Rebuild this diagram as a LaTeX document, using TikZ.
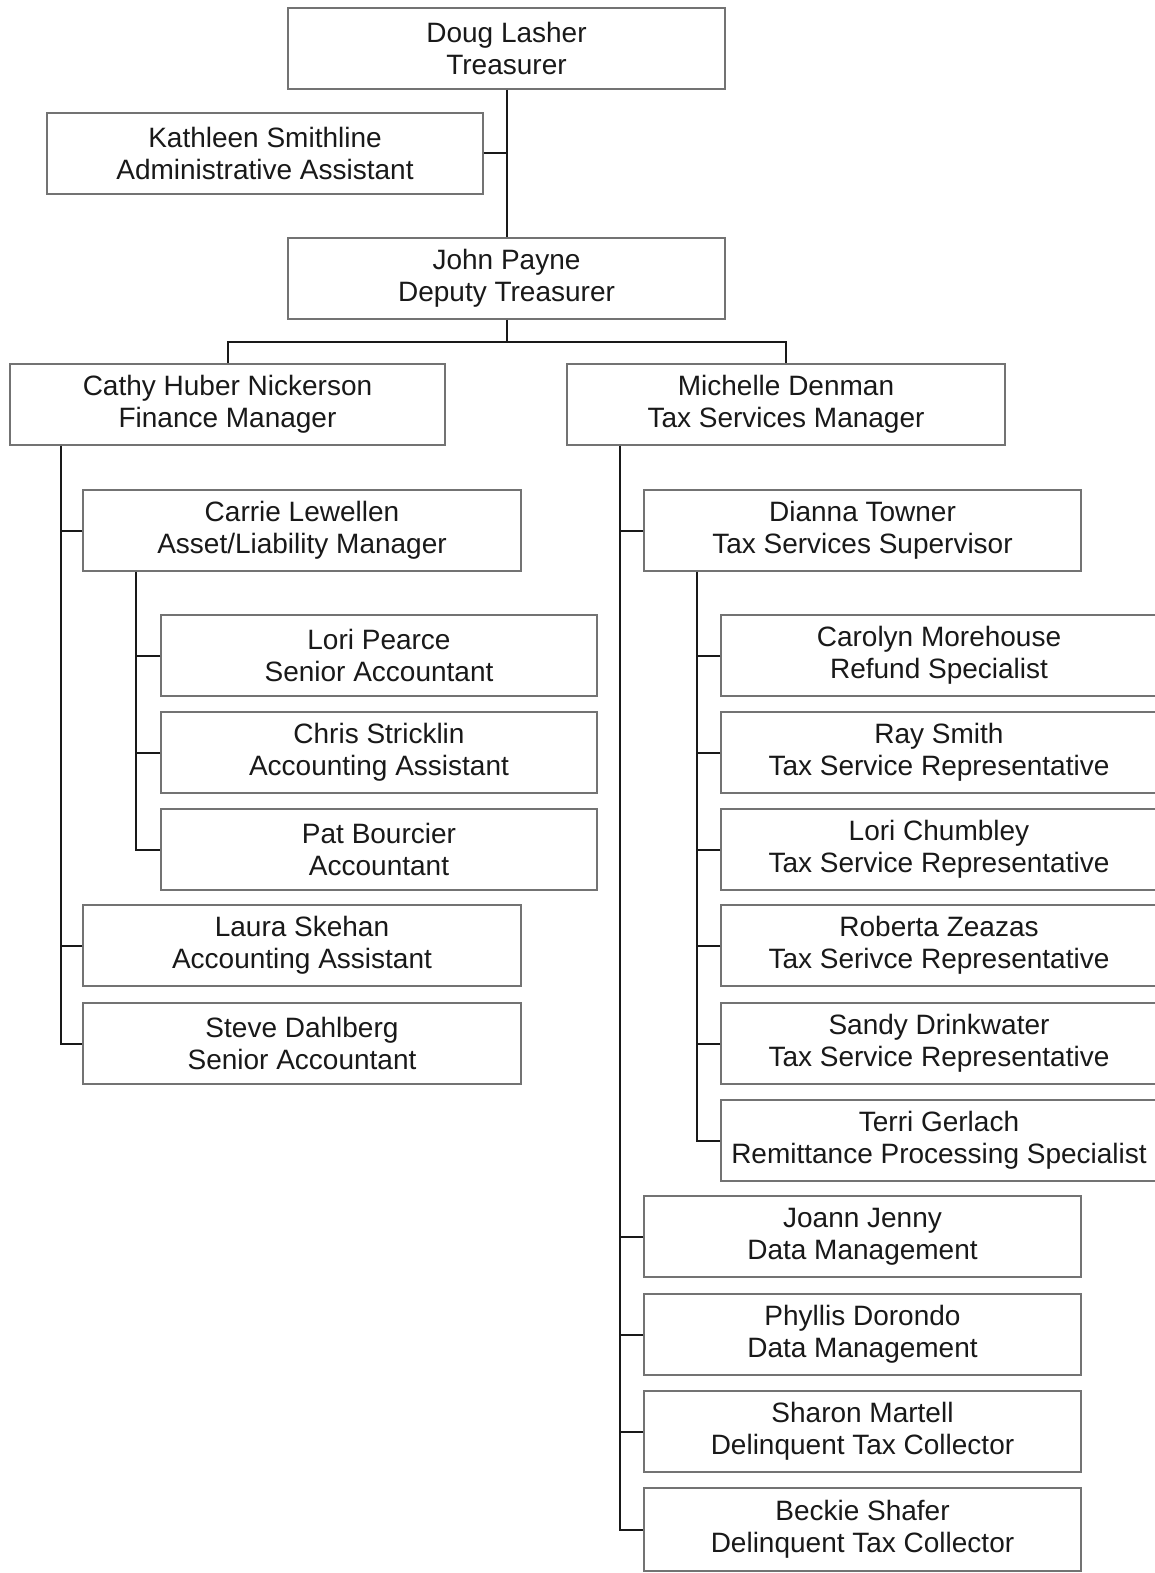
\documentclass[tikz,border=0pt]{standalone}
\usepackage{fontspec}
\setmainfont{Liberation Sans}
\begin{document}
\begin{tikzpicture}[x=1pt,y=-1pt,
  box/.style={draw=black!55, line width=1.1pt, inner sep=0pt, align=center,
    font=\fontsize{28}{32}\selectfont, text=black!90},
  conn/.style={draw=black!90, line width=2pt}]
\useasboundingbox (0,0) rectangle (1155,1573);
\clip (0,0) rectangle (1155,1573);
\fill[white] (0,0) rectangle (1155,1573);
\newcommand{\bx}[6]{%
  \node[box, minimum width={#3-#2}, minimum height={#5-#4}] (#1) at ({(#2+#3)/2},{(#4+#5)/2}) {#6};}
\bx{doug}{288}{725}{8}{89}{Doug Lasher\\Treasurer}
\bx{kath}{47}{483}{113}{194}{Kathleen Smithline\\Administrative Assistant}
\bx{john}{288}{725}{238}{319}{John Payne\\Deputy Treasurer}
\bx{cathy}{10}{445}{364}{445}{Cathy Huber Nickerson\\Finance Manager}
\bx{mich}{567}{1005}{364}{445}{Michelle Denman\\Tax Services Manager}
\bx{carrie}{83}{521}{490}{571}{Carrie Lewellen\\Asset/Liability Manager}
\bx{lorip}{161}{597}{615}{696}{Lori Pearce\\Senior Accountant}
\bx{chris}{161}{597}{712}{793}{Chris Stricklin\\Accounting Assistant}
\bx{pat}{161}{597}{809}{890}{Pat Bourcier\\Accountant}
\bx{laura}{83}{521}{905}{986}{Laura Skehan\\Accounting Assistant}
\bx{steve}{83}{521}{1003}{1084}{Steve Dahlberg\\Senior Accountant}
\bx{dianna}{644}{1081}{490}{571}{Dianna Towner\\Tax Services Supervisor}
\bx{carolyn}{721}{1157}{615}{696}{Carolyn Morehouse\\Refund Specialist}
\bx{ray}{721}{1157}{712}{793}{Ray Smith\\Tax Service Representative}
\bx{loric}{721}{1157}{809}{890}{Lori Chumbley\\Tax Service Representative}
\bx{roberta}{721}{1157}{905}{986}{Roberta Zeazas\\Tax Serivce Representative}
\bx{sandy}{721}{1157}{1003}{1084}{Sandy Drinkwater\\Tax Service Representative}
\bx{terri}{721}{1157}{1100}{1181}{Terri Gerlach\\Remittance Processing Specialist}
\bx{joann}{644}{1081}{1196}{1277}{Joann Jenny\\Data Management}
\bx{phyllis}{644}{1081}{1294}{1375}{Phyllis Dorondo\\Data Management}
\bx{sharon}{644}{1081}{1391}{1472}{Sharon Martell\\Delinquent Tax Collector}
\bx{beckie}{644}{1081}{1488}{1571}{Beckie Shafer\\Delinquent Tax Collector}
% top connectors
\draw[conn] (doug.south) -- (john.north);
\draw[conn] (kath.east) -- (kath.east -| doug.south);
\coordinate (jbar) at ([yshift=-22pt]john.south);
\draw[conn] (john.south) -- (jbar);
\draw[conn] (jbar) -| (cathy.north);
\draw[conn] (jbar) -| (mich.north);
% Cathy spine
\coordinate (cs) at ([xshift=52pt]cathy.south west);
\draw[conn] (cs) |- (steve.west);
\draw[conn] (carrie.west) -- (carrie.west -| cs);
\draw[conn] (laura.west) -- (laura.west -| cs);
% Carrie spine
\coordinate (ls) at ([xshift=54pt]carrie.south west);
\draw[conn] (ls) |- (pat.west);
\draw[conn] (lorip.west) -- (lorip.west -| ls);
\draw[conn] (chris.west) -- (chris.west -| ls);
% Michelle spine
\coordinate (ms) at ([xshift=54pt]mich.south west);
\draw[conn] (ms) |- (beckie.west);
\draw[conn] (dianna.west) -- (dianna.west -| ms);
\draw[conn] (joann.west) -- (joann.west -| ms);
\draw[conn] (phyllis.west) -- (phyllis.west -| ms);
\draw[conn] (sharon.west) -- (sharon.west -| ms);
% Dianna spine
\coordinate (ds) at ([xshift=54pt]dianna.south west);
\draw[conn] (ds) |- (terri.west);
\draw[conn] (carolyn.west) -- (carolyn.west -| ds);
\draw[conn] (ray.west) -- (ray.west -| ds);
\draw[conn] (loric.west) -- (loric.west -| ds);
\draw[conn] (roberta.west) -- (roberta.west -| ds);
\draw[conn] (sandy.west) -- (sandy.west -| ds);
\end{tikzpicture}
\end{document}
